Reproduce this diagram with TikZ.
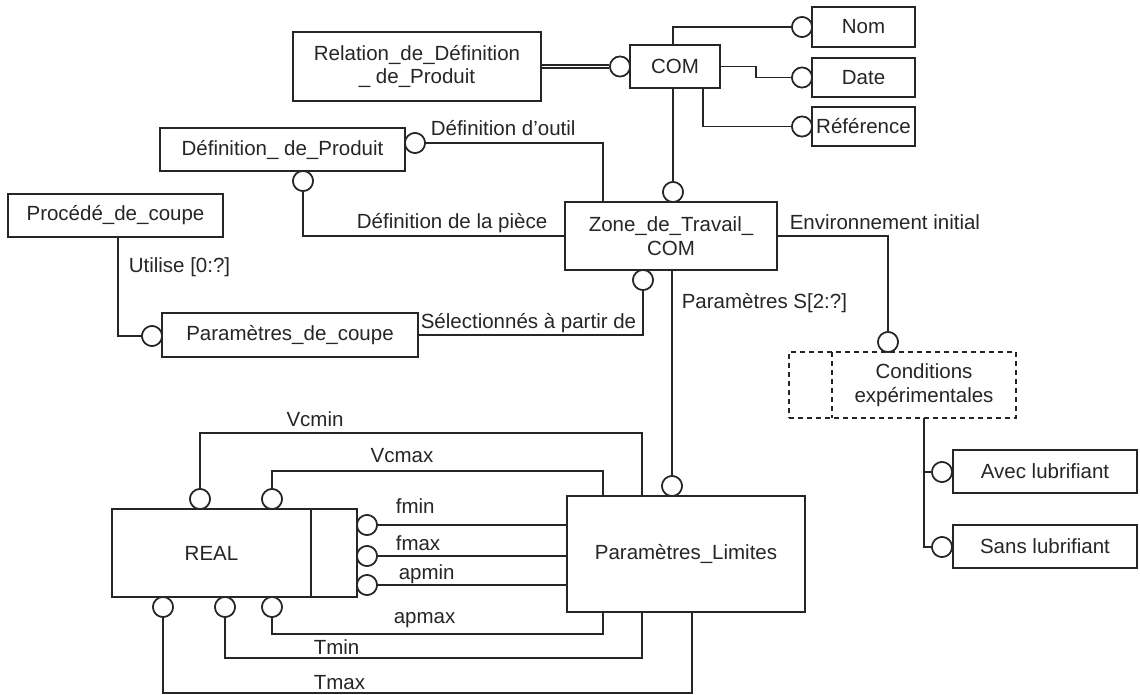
\documentclass[tikz,border=0pt]{standalone}
\usepackage{fontspec}
\setmainfont{Liberation Sans}
\usetikzlibrary{calc}
\newcommand\labfont{\fontsize{20.5}{23.5}\selectfont}
\begin{document}
\begin{tikzpicture}[x=1pt,y=-1pt,line width=1.6pt,color=black!85,
  box/.style={draw,rectangle,inner sep=0pt,align=center,font=\labfont},
  port/.style={draw,circle,fill=white,minimum size=20pt,inner sep=0pt},
  lbl/.style={font=\labfont,inner sep=0pt},
  dbox/.style={draw,rectangle,inner sep=0pt,dash pattern=on 5pt off 4pt,line width=1.4pt}]
\fill[white] (0,0) rectangle (1140,694);
\useasboundingbox (0,0) rectangle (1140,694);

% boxes
\node[box,minimum width=248pt,minimum height=69pt] (rel) at (417,66.5) {Relation\_de\_Définition\\\_ de\_Produit};
\node[box,minimum width=90pt,minimum height=43pt] (com) at (675,66.5) {COM};
\node[box,minimum width=103pt,minimum height=40pt] (nom) at (863.5,27) {Nom};
\node[box,minimum width=103pt,minimum height=39pt] (date) at (863.5,77.5) {Date};
\node[box,minimum width=103pt,minimum height=39pt] (ref) at (863.5,126.5) {Référence};
\node[box,minimum width=245pt,minimum height=43pt] (defp) at (282.5,149.5) {Définition\_ de\_Produit};
\node[box,minimum width=215pt,minimum height=43pt] (proc) at (115.5,215.5) {Procédé\_de\_coupe};
\node[box,minimum width=256pt,minimum height=44pt] (pc) at (290,335) {Paramètres\_de\_coupe};
\node[box,minimum width=212pt,minimum height=68pt,text depth=0pt] (zt) at (671,236) {Zone\_de\_Travail\_\\COM};
\node[dbox,minimum width=227pt,minimum height=66pt] (ce) at (902.5,385) {};
\node[lbl,align=center] (cet) at (924,385) {Conditions\\expérimentales};
\node[box,minimum width=184pt,minimum height=43pt] (avec) at (1045,471.5) {Avec lubrifiant};
\node[box,minimum width=184pt,minimum height=43pt] (sans) at (1045,546.5) {Sans lubrifiant};
\node[box,minimum width=245pt,minimum height=88pt] (real) at (234.5,553) {};
\node[lbl] (realt) at (211.5,553) {REAL};
\node[box,minimum width=238pt,minimum height=116pt] (pl) at (686,554) {Paramètres\_Limites};

% inner dividers
\coordinate (ce-d1) at (832,352); \coordinate (ce-d2) at (832,418);
\draw[dash pattern=on 5pt off 4pt,line width=1.4pt] (ce-d1) -- (ce-d2);
\coordinate (real-d1) at (311,509); \coordinate (real-d2) at (311,597);
\draw (real-d1) -- (real-d2);

% attachment coordinates
\coordinate (com-ref) at (703,88);
\coordinate (zt-outil) at (603,202);
\coordinate (proc-b) at (118,237);
\coordinate (ce-b) at (924,418);
\coordinate (pl-ta) at (603,496);
\coordinate (pl-tb) at (642,496);
\coordinate (pl-ba) at (603,612);
\coordinate (pl-bb) at (642,612);
\coordinate (pl-bc) at (692,612);

% ports
\node[port] (c-com) at (620,66.5) {};
\node[port] (c-nom) at (802,27) {};
\node[port] (c-date) at (802,77.5) {};
\node[port] (c-ref) at (802,126.5) {};
\node[port] (c-defr) at (415,143) {};
\node[port] (c-defb) at (303,181) {};
\node[port] (c-pc) at (152,336) {};
\node[port] (c-ztt) at (673,192) {};
\node[port] (c-ztb) at (643,280) {};
\node[port] (c-ce) at (888,342) {};
\node[port] (c-avec) at (942,472) {};
\node[port] (c-sans) at (942,547) {};
\node[port] (c-pl) at (672,486) {};
\node[port] (cr-t1) at (200,499) {};
\node[port] (cr-t2) at (272,499) {};
\node[port] (cr-b1) at (163,607) {};
\node[port] (cr-b2) at (225,607) {};
\node[port] (cr-b3) at (272,607) {};
\node[port] (cr-r1) at (367,525) {};
\node[port] (cr-r2) at (367,556) {};
\node[port] (cr-r3) at (367,585) {};

% connectors
\draw[double,double distance=1.2pt,line width=1.7pt] (rel.east) -- (c-com.west);
\draw (c-nom.west) -| (c-ztt |- com.north);
\draw (com.east) -- ++(35,0) |- (c-date.west);
\draw (com-ref) |- (c-ref.west);
\draw (com.south -| c-ztt) -- (c-ztt.north);
\draw (c-defr.east) -| (zt-outil);
\draw (c-defb.south) |- (zt.west);
\draw (proc-b) |- (c-pc.west);
\draw (c-ztb.south) |- (pc.east);
\draw (zt.south -| c-pl) -- (c-pl.north);
\draw (zt.east) -| (c-ce.north);
\draw (ce-b) |- (c-sans.west);
\draw (ce-b) |- (c-avec.west);
\draw (cr-t1.north) -- ++(0,-55) -| (pl-tb);
\draw (cr-t2.north) -- ++(0,-17) -| (pl-ta);
\draw (cr-b3.south) -- ++(0,16) -| (pl-ba);
\draw (cr-b2.south) -- ++(0,40) -| (pl-bb);
\draw (cr-b1.south) -- ++(0,75) -| (pl-bc);
\draw (cr-r1.east) -- (cr-r1.east -| pl.west);
\draw (cr-r2.east) -- (cr-r2.east -| pl.west);
\draw (cr-r3.east) -- (cr-r3.east -| pl.west);

% redraw ports on top
\foreach \p in {c-com,c-nom,c-date,c-ref,c-defr,c-defb,c-pc,c-ztt,c-ztb,c-ce,c-avec,c-sans,c-pl,cr-t1,cr-t2,cr-b1,cr-b2,cr-b3,cr-r1,cr-r2,cr-r3}
  \draw[fill=white] (\p) circle (10pt);

% labels
\node[lbl,anchor=west] (l-outil) at (430,128) {Définition d’outil};
\node[lbl,anchor=east] (l-piece) at (548,223) {Définition de la pièce};
\node[lbl,anchor=west] (l-sel) at (420,323) {Sélectionnés à partir de};
\node[lbl,anchor=west] (l-ps) at (681,303) {Paramètres S[2:?]};
\node[lbl,anchor=west] (l-env) at (789,222) {Environnement initial};
\node[lbl,anchor=west] (l-util) at (128,267) {Utilise [0:?]};
\node[lbl] (l-vcmin) at (315,419) {Vcmin};
\node[lbl] (l-vcmax) at (402,456) {Vcmax};
\node[lbl,anchor=west] (l-fmin) at (395,506) {fmin};
\node[lbl,anchor=west] (l-fmax) at (395,543) {fmax};
\node[lbl,anchor=west] (l-apmin) at (398,574) {apmin};
\node[lbl,anchor=west] (l-apmax) at (393,620) {apmax};
\node[lbl,anchor=west] (l-tmin) at (313,647) {Tmin};
\node[lbl,anchor=west] (l-tmax) at (313,683) {Tmax};
\end{tikzpicture}
\end{document}
